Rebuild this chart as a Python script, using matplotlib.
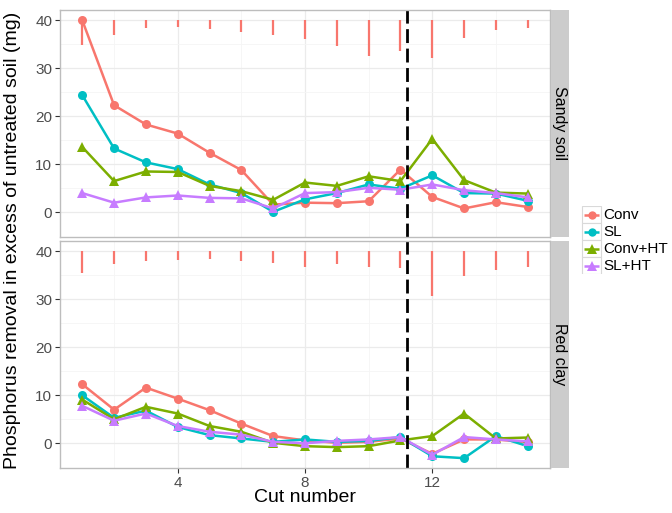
import matplotlib
matplotlib.use("Agg")
import matplotlib.pyplot as plt
from matplotlib.patches import Rectangle

plt.rcParams['font.family'] = ['Liberation Sans', 'DejaVu Sans']

cuts = list(range(1, 16))
treatments = ['Conv', 'SL', 'Conv+HT', 'SL+HT']
colors = ['#F8766D', '#00BFC4', '#7CAE00', '#C77CFF']
markers = ['o', 'o', '^', '^']
soils = ['Sandy soil', 'Red clay']

sandy = {
    'Conv':    [40.0, 22.3, 18.3, 16.4, 12.4, 8.8, 1.6, 2.0, 1.9, 2.3, 8.9, 3.2, 0.8, 2.1, 1.1],
    'SL':      [24.4, 13.3, 10.4, 9.0, 5.8, 4.0, 0.1, 2.7, 4.0, 5.8, 4.9, 7.7, 4.0, 3.9, 2.4],
    'Conv+HT': [13.6, 6.5, 8.5, 8.4, 5.5, 4.4, 2.6, 6.2, 5.5, 7.5, 6.5, 15.3, 6.7, 4.1, 3.9],
    'SL+HT':   [4.0, 2.0, 3.1, 3.5, 3.0, 2.9, 0.8, 4.0, 4.2, 5.1, 4.7, 5.8, 4.6, 4.0, 3.1],
}
clay = {
    'Conv':    [12.3, 7.0, 11.6, 9.3, 6.9, 4.1, 1.5, 0.6, 0.1, 0.3, 1.0, -2.2, 0.8, 0.8, 0.2],
    'SL':      [10.0, 5.3, 6.8, 3.4, 1.7, 1.0, 0.3, 0.8, 0.3, 0.5, 1.3, -2.7, -3.1, 1.5, -0.6],
    'Conv+HT': [9.1, 5.0, 7.6, 6.2, 3.6, 2.4, 0.1, -0.6, -0.8, -0.6, 0.6, 1.5, 6.2, 1.0, 1.2],
    'SL+HT':   [7.8, 4.7, 6.2, 3.6, 2.4, 1.8, 0.3, 0.0, 0.5, 0.8, 1.3, -2.4, 1.3, 0.8, 0.4],
}
# LSD bars hanging down from 40
sandy_lsd = [5.1, 3.0, 1.5, 1.3, 1.9, 2.4, 3.1, 3.8, 5.4, 7.4, 6.4, 7.8, 3.7, 2.1, 1.5]
clay_lsd = [4.5, 2.6, 2.1, 1.9, 1.7, 2.1, 2.4, 3.3, 2.6, 3.3, 3.4, 9.4, 5.2, 3.8, 3.3]
bar_top = 40
change_cut = 11.2

W, H = 672, 513
fig = plt.figure(figsize=(W / 100, H / 100), dpi=100)

def frac(x0, y0, x1, y1):
    return [x0 / W, 1 - y1 / H, (x1 - x0) / W, (y1 - y0) / H]

panels = [frac(60, 10, 550, 237), frac(60, 241, 550, 468)]
strips = [frac(551, 10, 569, 237), frac(551, 241, 569, 468)]
datasets = [sandy, clay]
lsds = [sandy_lsd, clay_lsd]

for i in range(2):
    ax = fig.add_axes(panels[i])
    ax.set_xlim(0.3, 15.7)
    ax.set_ylim(-5.15, 42.15)
    ax.set_xticks([4, 8, 12])
    ax.set_xticks([2, 6, 10, 14], minor=True)
    ax.set_yticks([0, 10, 20, 30, 40])
    ax.set_yticks([5, 15, 25, 35], minor=True)
    ax.grid(which='major', color='#EBEBEB', lw=0.9)
    ax.grid(which='minor', color='#F5F5F5', lw=0.6)
    ax.set_axisbelow(True)
    for s in ax.spines.values():
        s.set_color('#BDBDBD')
        s.set_linewidth(1.0)
    ax.tick_params(which='minor', length=0)
    ax.tick_params(which='major', length=3.5, color='#333333', labelsize=11,
                   labelcolor='#4D4D4D', pad=2)
    if i == 0:
        ax.tick_params(axis='x', labelbottom=False, length=0)

    ax.vlines(cuts, [bar_top - v for v in lsds[i]], bar_top, color='#F8766D', lw=1.6)
    for t, c, m in zip(treatments, colors, markers):
        ax.plot(cuts, datasets[i][t], color=c, lw=1.8, marker=m, ms=6.5 if m == 'o' else 7.5,
                markeredgewidth=0)
    ax.axvline(change_cut, color='black', lw=2, dashes=(5, 2))

    sax = fig.add_axes(strips[i])
    sax.set_facecolor('#CCCCCC')
    sax.set_xticks([])
    sax.set_yticks([])
    for s in sax.spines.values():
        s.set_visible(False)
    sax.text(0.5, 0.5, soils[i], rotation=-90, ha='center', va='center',
             fontsize=11.5, transform=sax.transAxes)

fig.text(305 / W, 1 - 497 / H, 'Cut number', ha='center', va='center', fontsize=14)
fig.text(13 / W, 1 - 240 / H, 'Phosphorus removal in excess of untreated soil (mg)',
         rotation=90, ha='center', va='center', fontsize=14)

# legend drawn by hand: grey-bordered keys like ggplot
lax = fig.add_axes(frac(580, 206, 672, 274))
lax.set_xlim(580, 672)
lax.set_ylim(274, 206)
lax.axis('off')
for k, (t, c, m) in enumerate(zip(treatments, colors, markers)):
    y0 = 206 + k * 17
    lax.add_patch(Rectangle((582, y0), 19, 17, facecolor='white', edgecolor='#D9D9D9', lw=0.8))
    lax.plot([584, 599], [y0 + 8.5, y0 + 8.5], color=c, lw=1.8, solid_capstyle='butt')
    lax.plot([591.5], [y0 + 8.5], color=c, marker=m, ms=6 if m == 'o' else 7, markeredgewidth=0)
    lax.text(603, y0 + 9, t, ha='left', va='center', fontsize=11)

fig.savefig('out.png', dpi=100)
